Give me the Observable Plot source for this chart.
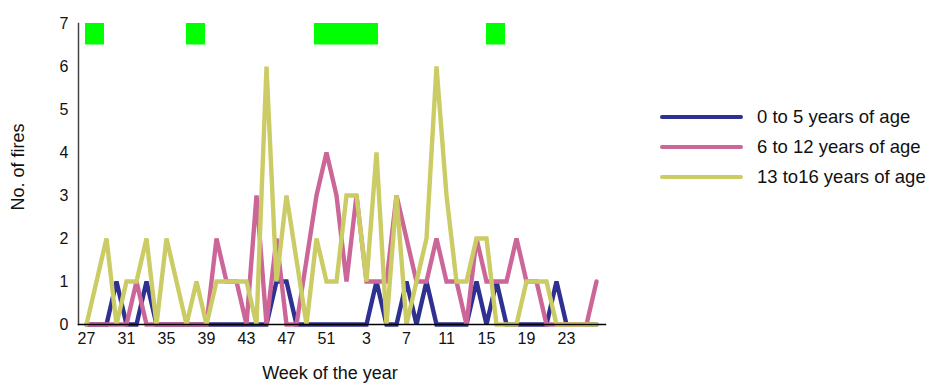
<!DOCTYPE html>
<html>
<head>
<meta charset="utf-8">
<script src="https://cdn.jsdelivr.net/npm/d3@7"></script>
<script src="https://cdn.jsdelivr.net/npm/@observablehq/plot@0.6"></script>
<style>
  html, body { margin: 0; padding: 0; background: #fff; }
  body { font-family: "Liberation Sans", Arial, sans-serif; }
  #wrap { position: relative; width: 928px; height: 383px; overflow: hidden; }
  #chart { position: absolute; left: 0; top: 0; }
  .ttl { position: absolute; font-size: 18px; color: #111; white-space: nowrap; }
  #ytitle { left: 18px; top: 167px; transform: translate(-50%, -50%) rotate(-90deg); }
  #xtitle { left: 330px; top: 373px; transform: translate(-50%, -50%); }
  #legend { position: absolute; left: 660px; top: 102px; }
  .lg { display: flex; align-items: center; height: 30px; font-size: 18.5px; color: #111; }
  .lg span.sw { display: inline-block; width: 83px; height: 4px; border-radius: 2px; margin-right: 14px; }
</style>
</head>
<body>
<div id="wrap">
  <div id="chart"></div>
  <div class="ttl" id="ytitle">No. of fires</div>
  <div class="ttl" id="xtitle">Week of the year</div>
  <div id="legend"></div>
</div>
<script>
// Week of the year, in chart order (27..52, then 1..26)
const weeks = [27,28,29,30,31,32,33,34,35,36,37,38,39,40,41,42,43,44,45,46,47,48,49,50,51,52,
               1,2,3,4,5,6,7,8,9,10,11,12,13,14,15,16,17,18,19,20,21,22,23,24,25,26];

// Number of fires by age group
const age0to5 = [0,0,0,1,0,0,1,0,0,0,0,0,0,0,0,0,0,0,0,1,1,0,0,0,0,0,
                 0,0,0,1,0,0,1,0,1,0,0,0,0,1,0,1,0,0,0,0,0,1,0,0,0,0];
const age6to12 = [0,0,0,0,0,1,0,0,0,0,0,0,0,2,1,1,0,3,0,2,0,0,1.5,3,4,3,
                  1,3,1,1,1,3,2,1,1,2,1,1,0,2,1,1,1,2,1,1,0,0,0,0,0,1];
const age13to16 = [0,1,2,0,1,1,2,0,2,1,0,1,0,1,1,1,1,0,6,1,3,1.5,0,2,1,1,
                   3,3,1,4,0,3,0,1,2,6,3,1,1,2,2,0,0,0,1,1,1,0,0,0,0,0];

// Holiday periods marked along the top (start/end in chart positions)
const holidayStart = [-0.1, 10, 22.8, 40];
const holidayEnd   = [1.8, 11.9, 29.2, 41.9];

// Tick labels (every 4th week)
const tickWeeks = [27,31,35,39,43,47,51,3,7,11,15,19,23];

const seriesNames = ["0 to 5 years of age", "6 to 12 years of age", "13 to16 years of age"];
const seriesColors = ["#2e3192", "#cc6699", "#cccc66"];
const seriesValues = [age0to5, age6to12, age13to16];

const rows = [];
seriesValues.forEach((vals, s) => vals.forEach((v, i) => rows.push({series: seriesNames[s], i, v})));
const holidays = holidayStart.map((s, k) => ({s, e: holidayEnd[k]}));
const tickPos = tickWeeks.map(w => weeks.indexOf(w));

const chart = Plot.plot({
  width: 928,
  height: 383,
  marginLeft: 78,
  marginRight: 323,
  marginTop: 23,
  marginBottom: 59,
  style: {fontFamily: '"Liberation Sans", Arial, sans-serif', fontSize: "16px", color: "#111", background: "#fff"},
  x: {domain: [-0.8, 51.9], axis: null},
  y: {domain: [0, 7], axis: null},
  color: {domain: seriesNames, range: seriesColors},
  marks: [
    Plot.rect(holidays, {x1: "s", x2: "e", y1: 6.5, y2: 7, fill: "#00ff00"}),
    Plot.axisX(tickPos, {tickSize: 0, tickPadding: 8, tickFormat: i => String(weeks[i]), label: null, fontSize: 16}),
    Plot.axisY(d3.range(0, 8), {tickSize: 0, tickPadding: 10, label: null, fontSize: 16}),
    ...seriesNames.map(name =>
      Plot.line(rows.filter(r => r.series === name), {x: "i", y: "v", stroke: "series", strokeWidth: 4.4, strokeLinejoin: "miter", strokeMiterlimit: 4})
    ),
    Plot.frame({anchor: "left", stroke: "#444", strokeWidth: 1.5}),
    Plot.frame({anchor: "bottom", stroke: "#000", strokeWidth: 1.5})
  ]
});
document.getElementById("chart").appendChild(chart);

const lg = document.getElementById("legend");
seriesNames.forEach((n, k) => {
  const row = document.createElement("div");
  row.className = "lg";
  const sw = document.createElement("span");
  sw.className = "sw";
  sw.style.background = seriesColors[k];
  row.appendChild(sw);
  row.appendChild(document.createTextNode(n));
  lg.appendChild(row);
});
</script>
</body>
</html>
